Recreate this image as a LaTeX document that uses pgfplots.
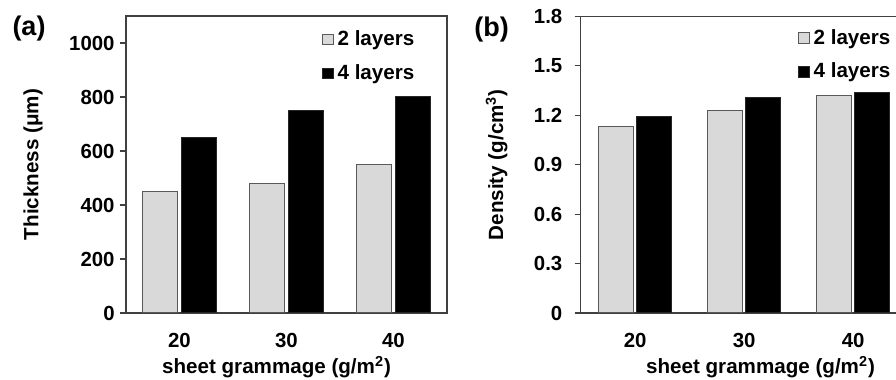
\documentclass[border=0pt]{standalone}
\usepackage{fontspec}
\setmainfont{Liberation Sans}
\usepackage{pgfplots}
\pgfplotsset{compat=1.18}
\definecolor{lightbar}{HTML}{D9D9D9}
\definecolor{baredge}{HTML}{595959}
\definecolor{axcol}{HTML}{404040}
\pgfplotsset{
  mybars/.style={
    scale only axis,
    ybar,
    xmin=-0.5, xmax=2.5,
    xtick={0,1,2}, xticklabels={20,30,40},
    ymin=0,
    axis line style={axcol, line width=0.6pt},
    major tick length=3pt,
    tick align=outside,
    xtick style={draw=none},
    ytick style={draw=axcol, line width=0.6pt},
    ytick pos=left,
    /pgf/number format/assume math mode=true,
    tick label style={font=\fontsize{10.2}{12}\selectfont\bfseries},
    label style={font=\fontsize{10.3}{12}\selectfont\bfseries},
    xticklabel style={anchor=center, yshift=-10.5pt},
    legend cell align=left,
    legend style={draw=none, fill=none, font=\fontsize{10.3}{12}\selectfont\bfseries, row sep=4pt, inner sep=0pt},
    legend image code/.code={\draw[#1] (0pt,-2.6pt) rectangle (5.2pt,2.6pt);},
    clip=false,
  },
  lightstyle/.style={fill=lightbar, draw=baredge, line width=0.5pt},
  darkstyle/.style={fill=black, draw=black!85, line width=0.5pt},
}
\begin{document}
\begin{tikzpicture}
% panel (a)
\begin{axis}[mybars,
  at={(63pt,33.5pt)}, anchor=south west,
  width=160.5pt, height=148.5pt,
  ymax=1100,
  ytick={0,200,400,600,800,1000},
  yticklabels={0,200,400,600,800,1000},
  yticklabel style={inner sep=0pt, anchor=east, xshift=-2.5pt},
  ylabel={Thickness (μm)},
  ylabel style={at={(axis description cs:-0.2897,0.5)}, anchor=center, rotate=0},
  xlabel={sheet grammage (g/m\textsuperscript{2})},
  xlabel style={at={(axis description cs:0.469,-0.182)}, anchor=center},
  legend style={at={(axis description cs:0.61,0.965)}, anchor=north west},
]
\addplot[lightstyle, bar width=0.327, bar shift=-0.18] coordinates {(0,450) (1,480) (2,550)};
\addplot[darkstyle, bar width=0.327, bar shift=0.18] coordinates {(0,650) (1,750) (2,800)};
\legend{2 layers, 4 layers}
\end{axis}
% panel (b)
\begin{axis}[mybars,
  at={(290.35pt,33.5pt)}, anchor=south west,
  width=163.5pt, height=148.3pt,
  ymax=1.8,
  ytick={0,0.3,0.6,0.9,1.2,1.5,1.8},
  yticklabels={0,0.3,0.6,0.9,1.2,1.5,1.8},
  yticklabel style={inner sep=0pt, anchor=east, xshift=-6pt},
  ylabel={Density (g/cm\textsuperscript{3})},
  ylabel style={at={(axis description cs:-0.2569,0.5)}, anchor=center, rotate=0},
  xlabel={sheet grammage (g/m\textsuperscript{2})},
  xlabel style={at={(axis description cs:0.55,-0.182)}, anchor=center},
  legend style={at={(axis description cs:0.664,0.972)}, anchor=north west},
]
\addplot[lightstyle, bar width=0.32, bar shift=-0.175] coordinates {(0,1.13) (1,1.23) (2,1.32)};
\addplot[darkstyle, bar width=0.32, bar shift=0.175] coordinates {(0,1.19) (1,1.31) (2,1.34)};
\legend{2 layers, 4 layers}
\end{axis}
\node[font=\fontsize{13.5}{15}\selectfont\bfseries] at (14.5pt,175.75pt) {(a)};
\node[font=\fontsize{13.5}{15}\selectfont\bfseries] at (245.75pt,175pt) {(b)};
\pgfresetboundingbox
\path[use as bounding box] (0,0) rectangle (448pt,190pt);
\end{tikzpicture}
\end{document}
